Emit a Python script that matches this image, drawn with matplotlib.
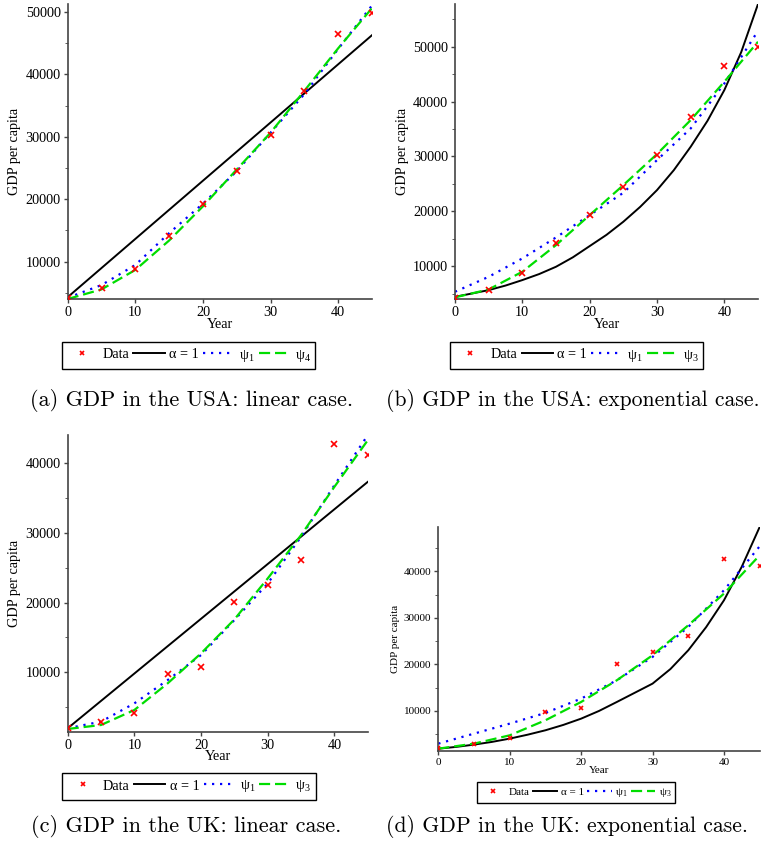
import matplotlib
matplotlib.use('Agg')
import matplotlib.pyplot as plt
from matplotlib.ticker import MultipleLocator

plt.rcParams['font.family'] = 'Liberation Serif'
plt.rcParams['mathtext.fontset'] = 'custom'
plt.rcParams['mathtext.rm'] = 'Liberation Serif'
plt.rcParams['mathtext.it'] = 'Liberation Serif:italic'

# data
years = [0, 5, 10, 15, 20, 25, 30, 35, 40, 45]
usa_gdp = [4200, 5700, 8770, 14130, 19290, 24500, 30240, 37280, 46560, 49890]
uk_gdp = [2100, 2850, 4220, 9710, 10720, 20020, 22560, 26080, 42690, 41120]

# fitted curves, sampled every 5 years
lin_years = [0, 45]
usa_lin_alpha = [4300, 46300]
usa_lin_psi1 = [4200, 6240, 9460, 14560, 19290, 24500, 30670, 36850, 44100, 51070]
usa_lin_psi4 = [4000, 5540, 8660, 13380, 18860, 24770, 30670, 37380, 44200, 50640]

uk_lin_alpha = [1990, 37280]
uk_lin_psi1 = [2000, 2940, 5560, 8900, 12480, 17490, 22730, 29410, 36800, 43960]
uk_lin_psi3 = [1890, 2460, 4610, 8430, 12720, 17580, 23450, 29650, 36570, 43240]

# exponential alpha = 1 curves, sampled every 2.5 years
exp_years = [0, 2.5, 5, 7.5, 10, 12.5, 15, 17.5, 20, 22.5, 25, 27.5, 30, 32.5, 35, 37.5, 40, 42.5, 45]
usa_exp_alpha = [4400, 5000, 5620, 6450, 7450, 8550, 9880, 11600, 13650, 15700, 18090,
                 20800, 23860, 27500, 31760, 36500, 42100, 49000, 57780]
usa_exp_psi1 = [5320, 8050, 11400, 15230, 19300, 23370, 29330, 35100, 43300, 52900]
usa_exp_psi3 = [4300, 5740, 8970, 13830, 19300, 24770, 30430, 36630, 43620, 50910]

uk_exp_alpha = [1900, 2280, 2770, 3350, 4060, 4900, 5850, 7000, 8350, 10000, 11930,
                13900, 15870, 19000, 23030, 28000, 33770, 41000, 49520]
uk_exp_psi1 = [2980, 5130, 7280, 9570, 12650, 16590, 21600, 28040, 35920, 45370]
uk_exp_psi3 = [1900, 2980, 4770, 8000, 11930, 16590, 21960, 28400, 35200, 43440]

W, H = 761, 850
fig = plt.figure(figsize=(W / 100, H / 100), dpi=100)


def make_ax(x0, y0, x1, y1):
    return fig.add_axes([x0 / W, 1 - y1 / H, (x1 - x0) / W, (y1 - y0) / H])


def panel(ax, data, ax_x, ax_y, ps_x, psi1, psi_b, psi_name, ylim, fs, leg_xy, caption, cap_xy, cap_fs):
    ax.plot(years, data, 'x', color='red', ms=fs * 0.44, mew=1.2, label='Data', zorder=5)
    ax.plot(ax_x, ax_y, '-', color='black', lw=1.4, label='α = 1')
    ax.plot(ps_x, psi1, color='blue', lw=1.6, ls=(0, (1, 2.6)), label='ψ$_{\\mathit{1}}$')
    ax.plot(ps_x, psi_b, color='#00dd00', lw=1.6, ls=(0, (5, 2.2)),
            label='ψ$_{\\mathit{' + psi_name + '}}$')
    ax.set_xlim(0, 45)
    ax.set_ylim(*ylim)
    ax.xaxis.set_major_locator(MultipleLocator(10))
    ax.yaxis.set_major_locator(MultipleLocator(10000))
    ax.yaxis.set_minor_locator(MultipleLocator(5000))
    for s in ['top', 'right']:
        ax.spines[s].set_visible(False)
    for s in ['left', 'bottom']:
        ax.spines[s].set_color('#444444')
        ax.spines[s].set_linewidth(1.2)
    ax.tick_params(labelsize=fs, length=3, width=1, color='#444444', pad=2)
    ax.tick_params(which='minor', length=2, color='#444444')
    ax.set_xlabel('Year', fontsize=fs, labelpad=-1)
    ax.set_ylabel('GDP per capita', fontsize=fs, labelpad=3)
    leg = ax.legend(loc='center', bbox_to_anchor=(leg_xy[0] / W, 1 - leg_xy[1] / H),
                    bbox_transform=fig.transFigure, ncol=4, fontsize=fs,
                    fancybox=False, edgecolor='black', framealpha=1,
                    handlelength=2.2, handletextpad=0.3, columnspacing=0.3,
                    borderpad=0.35, borderaxespad=0, markerscale=0.7)
    leg.get_frame().set_linewidth(1.0)
    fig.text(cap_xy[0] / W, 1 - cap_xy[1] / H, caption, family='cmr10',
             fontsize=cap_fs, ha='left', va='center')


ax_a = make_ax(67.7, 4, 372, 299)
panel(ax_a, usa_gdp, lin_years, usa_lin_alpha, years, usa_lin_psi1, usa_lin_psi4, '4',
      (4000, 51300), 10.3, (188.5, 355.5), '(a) GDP in the USA: linear case.', (30, 401), 16)

ax_b = make_ax(455, 4, 758, 299)
panel(ax_b, usa_gdp, exp_years, usa_exp_alpha, years, usa_exp_psi1, usa_exp_psi3, '3',
      (4000, 57800), 10.3, (576.5, 355.5), '(b) GDP in the USA: exponential case.', (386, 401), 15.6)

ax_c = make_ax(67.7, 435, 367.7, 731.7)
panel(ax_c, uk_gdp, lin_years, uk_lin_alpha, years, uk_lin_psi1, uk_lin_psi3, '3',
      (1500, 44000), 10.3, (189, 786.5), '(c) GDP in the UK: linear case.', (31, 827), 16)

ax_d = make_ax(438.3, 527, 759.7, 751)
panel(ax_d, uk_gdp, exp_years, uk_exp_alpha, years, uk_exp_psi1, uk_exp_psi3, '3',
      (1400, 49500), 8, (576, 792.4), '(d) GDP in the UK: exponential case.', (386, 827), 15.6)

fig.savefig('out.png', dpi=100)
